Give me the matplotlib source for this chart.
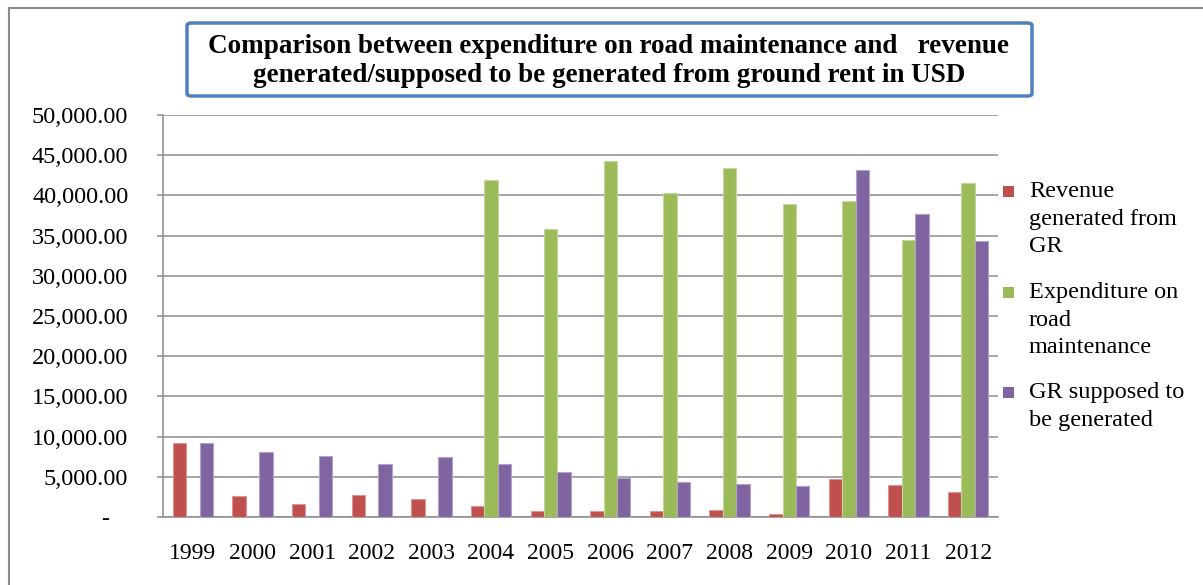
import numpy as np
import matplotlib
matplotlib.use("Agg")
import matplotlib.pyplot as plt
from matplotlib.lines import Line2D
from matplotlib.patches import FancyBboxPatch, Rectangle
from matplotlib.ticker import FuncFormatter

# --------------------------------------------
# Data (USD)
# --------------------------------------------

years = ["1999", "2000", "2001", "2002", "2003", "2004", "2005",
         "2006", "2007", "2008", "2009", "2010", "2011", "2012"]

revenue_gr = [9150, 2570, 1670, 2740, 2290, 1370, 800,
              800, 800, 920, 420, 4690, 3980, 3070]

expenditure_road = [0, 0, 0, 0, 0, 41860, 35820,
                    44300, 40250, 43390, 38970, 39300, 34500, 41580]

gr_supposed = [9150, 8080, 7640, 6550, 7460, 6550, 5650,
               4900, 4400, 4150, 3820, 43100, 37680, 34300]

series_names = [
    "Revenue\ngenerated from\nGR",
    "Expenditure on\nroad\nmaintenance",
    "GR supposed to\nbe generated",
]
colors = ["#C0504D", "#9BBB59", "#8064A2"]
edges = ["#D99694", "#C3D69B", "#B3A2C7"]

plt.rcParams["font.family"] = ["Liberation Serif", "DejaVu Serif"]

# --------------------------------------------
# Figure
# --------------------------------------------

fig = plt.figure(figsize=(12.03, 5.85), dpi=100)
ax = fig.add_axes([163 / 1203, 68 / 585, 835 / 1203, 402 / 585])

x = np.arange(len(years))
w = 0.225
all_series = [revenue_gr, expenditure_road, gr_supposed]

for i, (vals, col, ec) in enumerate(zip(all_series, colors, edges)):
    ax.bar(x + (i - 1) * w, vals, width=w, color=col,
           edgecolor=ec, linewidth=0.8, zorder=3)

ax.set_xlim(-0.5, len(years) - 0.5)
ax.set_ylim(0, 50000)
ax.set_yticks(np.arange(0, 50001, 5000))


def money(v, pos):
    if v == 0:
        return "-   "
    return f"{v:,.2f}"


ax.yaxis.set_major_formatter(FuncFormatter(money))
ax.set_xticks(x)
ax.set_xticklabels(years)

ax.yaxis.grid(True, color="#8C8C8C", linewidth=1.1, zorder=0)
ax.set_axisbelow(True)

for side in ["top", "right"]:
    ax.spines[side].set_visible(False)
for side in ["left", "bottom"]:
    ax.spines[side].set_color("#8C8C8C")
    ax.spines[side].set_linewidth(1.1)

ax.tick_params(axis="y", direction="out", length=4, width=1.1,
               color="#8C8C8C", pad=21, labelsize=17.5)
ax.tick_params(axis="x", length=0, pad=19, labelsize=17)

# --------------------------------------------
# Legend (square keys next to first line of each label)
# --------------------------------------------

legend_tops = [192, 293, 393]
for name, col, top in zip(series_names, colors, legend_tops):
    fig.patches.append(Rectangle(
        (1003 / 1203, 1 - (top + 5) / 585), 11 / 1203, 11 / 585,
        transform=fig.transFigure, facecolor=col, edgecolor="none"))
    fig.text(1029 / 1203, 1 - (top - 11) / 585, name, fontsize=17.5,
             va="top", ha="left", linespacing=1.42)

# --------------------------------------------
# Title box
# --------------------------------------------

fig.patches.append(FancyBboxPatch(
    (187 / 1203, 1 - 96 / 585), 845 / 1203, 73 / 585,
    boxstyle="round,pad=0,rounding_size=0.004",
    transform=fig.transFigure, facecolor="white",
    edgecolor="#4F81BD", linewidth=2.5))

fig.text(609 / 1203, 1 - 61 / 585,
         "Comparison between expenditure on road maintenance and   revenue\n"
         "generated/supposed to be generated from ground rent in USD",
         ha="center", va="center", fontsize=19.5, fontweight="bold",
         linespacing=1.22)

# outer chart frame
fig.add_artist(Line2D([9 / 1203, 9 / 1203], [0, 1 - 8 / 585],
                      transform=fig.transFigure, color="#8C8C8C", linewidth=1.5))
fig.add_artist(Line2D([9 / 1203, 1], [1 - 8 / 585, 1 - 8 / 585],
                      transform=fig.transFigure, color="#8C8C8C", linewidth=1.5))

plt.savefig("out.png", dpi=100)
plt.close()
